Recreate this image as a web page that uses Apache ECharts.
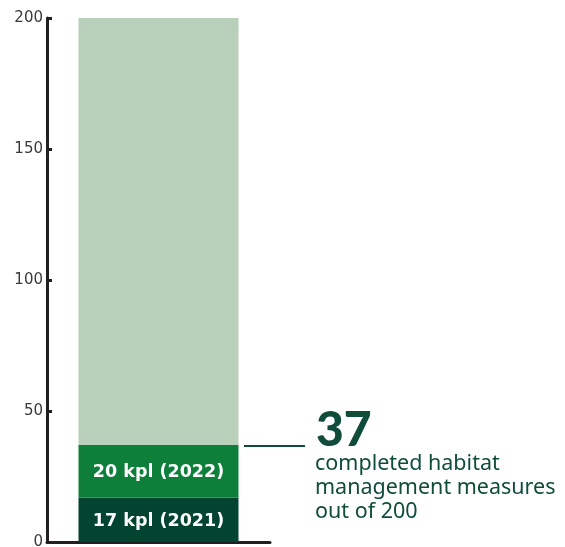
<!DOCTYPE html>
<html>
<head>
<meta charset="utf-8">
<script src="https://cdn.jsdelivr.net/npm/echarts@6/dist/echarts.min.js"></script>
<style>
  html, body { margin: 0; padding: 0; background: #ffffff; }
  #chart { width: 565px; height: 547px; }
</style>
</head>
<body>
<div id="chart"></div>
<script>
// Habitat management measures: completed per year against the target
const categories = ['Habitat management'];
const completed2021 = [17];
const completed2022 = [20];
const target = 200;
const segmentLabels = ['17 kpl (2021)', '20 kpl (2022)'];
const yTicks = [0, 50, 100, 150, 200];
const captionLines = ['completed habitat', 'management measures', 'out of 200'];

const totalDone = completed2021[0] + completed2022[0];
const remaining = [target - totalDone];

const COLORS = { dark: '#034430', mid: '#0e7f3b', light: '#b8cfb9', text: '#0f4c3a' };

const chart = echarts.init(document.getElementById('chart'), null, { renderer: 'canvas' });

const insideLabel = (text) => ({
  show: true,
  position: 'inside',
  offset: [0, 1.5],
  formatter: () => text,
  color: '#ffffff',
  fontFamily: 'DejaVu Sans',
  fontWeight: 'bold',
  fontSize: 17.5
});

chart.setOption({
  animation: false,
  grid: { left: 47, width: 223, top: 18, bottom: 5, containLabel: false, outerBoundsMode: 'none' },
  xAxis: {
    type: 'category',
    data: categories,
    axisLine: { show: true, lineStyle: { color: '#231f20', width: 3 } },
    axisTick: { show: false },
    axisLabel: { show: false }
  },
  yAxis: {
    type: 'value',
    min: yTicks[0],
    max: yTicks[yTicks.length - 1],
    interval: yTicks[1] - yTicks[0],
    splitLine: { show: false },
    axisLine: { show: true, lineStyle: { color: '#231f20', width: 3 } },
    axisTick: { show: true, inside: true, length: 5, lineStyle: { color: '#231f20', width: 3 } },
    axisLabel: { color: '#3a3a3a', fontFamily: 'DejaVu Sans', fontSize: 15, margin: 4 }
  },
  series: [
    {
      type: 'bar', stack: 'total', data: completed2021, barWidth: 160,
      itemStyle: { color: COLORS.dark }, label: insideLabel(segmentLabels[0])
    },
    {
      type: 'bar', stack: 'total', data: completed2022, barWidth: 160,
      itemStyle: { color: COLORS.mid }, label: insideLabel(segmentLabels[1])
    },
    {
      type: 'bar', stack: 'total', data: remaining, barWidth: 160,
      itemStyle: { color: COLORS.light }, label: { show: false }
    }
  ]
});

// Callout for the completed total, anchored at the top of the completed stack
const yTotal = chart.convertToPixel({ yAxisIndex: 0 }, totalDone);
const graphics = [
  {
    type: 'line',
    shape: { x1: 244, y1: yTotal + 1, x2: 305, y2: yTotal + 1 },
    style: { stroke: COLORS.text, lineWidth: 2 }
  },
  {
    type: 'text',
    x: 316, y: yTotal + 9,
    style: {
      text: String(totalDone),
      fill: COLORS.text,
      font: '900 48px Lato',
      textVerticalAlign: 'bottom',
      textAlign: 'left'
    }
  }
];
captionLines.forEach((line, i) => {
  graphics.push({
    type: 'text',
    x: 315, y: yTotal + 7.5 + i * 24,
    style: {
      text: line,
      fill: COLORS.text,
      font: '21.5px "Noto Sans"',
      textVerticalAlign: 'top',
      textAlign: 'left'
    }
  });
});
chart.setOption({ graphic: graphics });
</script>
</body>
</html>
